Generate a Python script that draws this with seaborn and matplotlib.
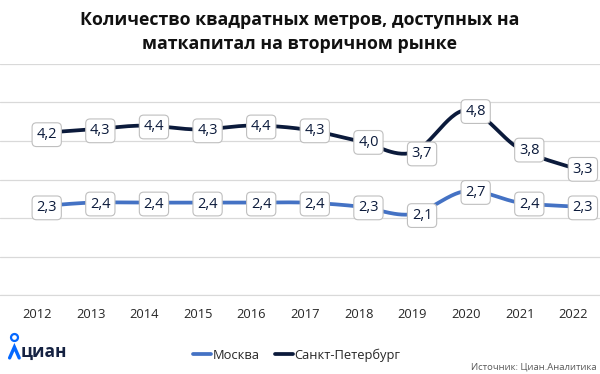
import matplotlib.pyplot as plt
import numpy as np
import pandas as pd
import seaborn as sns

# Data
years = ['2012', '2013', '2014', '2015', '2016', '2017', '2018', '2019', '2020', '2021', '2022']
moscow = [2.3, 2.4, 2.4, 2.4, 2.4, 2.4, 2.3, 2.1, 2.7, 2.4, 2.3]
spb = [4.2, 4.3, 4.4, 4.3, 4.4, 4.3, 4.0, 3.7, 4.8, 3.8, 3.3]
series_names = ['Москва', 'Санкт-Петербург']
series_colors = ['#4472C4', '#0B1A3B']


def smooth(values, n=30):
    # Catmull-Rom curve through the points (like Excel's smoothed line)
    y = np.asarray(values, dtype=float)
    x = np.arange(len(y), dtype=float)
    px = np.concatenate([[x[0]], x, [x[-1]]])
    py = np.concatenate([[y[0]], y, [y[-1]]])
    xs, ys = [], []
    for i in range(1, len(px) - 2):
        t = np.linspace(0, 1, n, endpoint=(i == len(px) - 3))
        for arr, out in ((px, xs), (py, ys)):
            p0, p1, p2, p3 = arr[i - 1], arr[i], arr[i + 1], arr[i + 2]
            out.extend(0.5 * ((2 * p1) + (-p0 + p2) * t
                              + (2 * p0 - 5 * p1 + 4 * p2 - p3) * t ** 2
                              + (-p0 + 3 * p1 - 3 * p2 + p3) * t ** 3))
    return np.array(xs), np.array(ys)


frames = []
for name, vals in zip(series_names, [moscow, spb]):
    sx, sy = smooth(vals)
    frames.append(pd.DataFrame({'x': sx, 'y': sy, 'series': name}))
df = pd.concat(frames, ignore_index=True)

sns.set_style('white')
plt.rcParams['font.family'] = ['Open Sans', 'DejaVu Sans']

fig = plt.figure(figsize=(6, 3.74), dpi=100)
ax = fig.add_axes([0.0, 0.211, 1.0, 0.618])

sns.lineplot(data=df, x='x', y='y', hue='series', palette=series_colors,
             sort=False, estimator=None, linewidth=2.7, ax=ax, legend=False)

for vals, col in zip([moscow, spb], series_colors):
    for i, v in enumerate(vals):
        ax.annotate(f'{v:.1f}'.replace('.', ','), (i, v), xytext=(7, -1),
                    textcoords='offset points', ha='center', va='center',
                    fontsize=10.5, color='#0B1A3B',
                    bbox=dict(boxstyle='round,pad=0.3,rounding_size=0.3',
                              fc='white', ec='#BFBFBF', lw=0.8))

ax.set_xlim(-0.69, 10.5)
ax.set_ylim(0, 6)
ax.set_yticks(range(0, 7))
ax.set_yticklabels([])
ax.tick_params(axis='y', length=0)
ax.grid(axis='y', color='#D9D9D9', linewidth=0.9)
ax.set_axisbelow(True)
ax.set_xticks(range(len(years)))
ax.set_xticklabels(years, fontsize=9.3, color='#262626')
ax.tick_params(axis='x', length=0, pad=9)
ax.set_xlabel('')
ax.set_ylabel('')
for side in ['top', 'right', 'left']:
    ax.spines[side].set_visible(False)
ax.spines['bottom'].set_color('#D9D9D9')

fig.text(0.5, 0.915, 'Количество квадратных метров, доступных на\nматкапитал на вторичном рынке',
         ha='center', va='center', fontsize=12.8, fontweight='bold', color='#111111',
         linespacing=1.45)

# legend
handles = [plt.Line2D([], [], color=c, lw=2.7) for c in series_colors]
fig.legend(handles, series_names, loc='center', bbox_to_anchor=(0.495, 0.051),
           ncol=2, frameon=False, fontsize=9.3, handlelength=1.4,
           handletextpad=0.1, columnspacing=1.2, labelcolor='#262626')

# logo and source
fig.add_artist(plt.Line2D([0.016, 0.024, 0.032], [0.043, 0.072, 0.043],
                          transform=fig.transFigure, color='#0468FF', lw=2.4,
                          solid_joinstyle='miter'))
fig.add_artist(plt.Line2D([0.024], [0.098], transform=fig.transFigure,
                          marker='o', markersize=5, mfc='white', mec='#0468FF', mew=1.6))
fig.text(0.034, 0.058, 'циан', color='#152242', fontsize=12.5, fontweight='bold',
         va='center', ha='left')
fig.text(0.995, 0.018, 'Источник: Циан.Аналитика', color='#595959', fontsize=6.8,
         ha='right', va='center')

fig.savefig('out.png', dpi=100)
